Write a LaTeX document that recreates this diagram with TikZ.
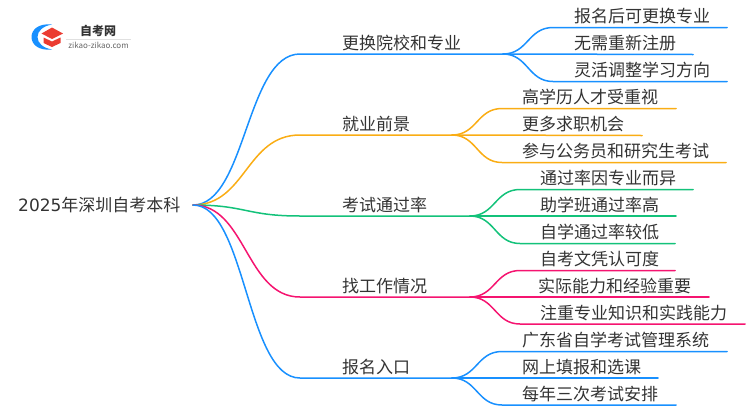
\documentclass[tikz,border=0pt]{standalone}
\usepackage{fontspec}
\setmainfont{Noto Sans CJK SC}
\newfontfamily\digitfont{DejaVu Sans}
\usetikzlibrary{positioning}
\definecolor{linkblue}{RGB}{24,144,255}
\definecolor{linkorange}{RGB}{250,173,20}
\definecolor{linkgreen}{RGB}{19,194,122}
\definecolor{linkpink}{RGB}{245,20,112}
\definecolor{textdark}{RGB}{51,51,51}
\definecolor{logored}{RGB}{235,60,50}
\begin{document}
\begin{tikzpicture}[
        x=1pt, y=-1pt,
        rootlabel/.style={inner sep=0pt, anchor=west, text=textdark, font=\fontsize{17}{17}\selectfont},
        branchlabel/.style={rootlabel},
        leaflabel/.style={rootlabel},
        link/.style={line width=1.5pt, line cap=round}
    ]
        \useasboundingbox (0,0) rectangle (750,410);
        \node[rootlabel] (root) at (18,205) {{\digitfont 2025}年深圳自考本科};
        \coordinate (rootend) at (193,205);

        % logo
        \fill[linkblue] (52,24.5) .. controls (38,23) and (31.5,30) .. (31.5,37) .. controls (31.5,44) and (38,51) .. (52,49.5) .. controls (43,48) and (37.5,43) .. (37.5,37) .. controls (37.5,31) and (43,26) .. (52,24.5) -- cycle;
        \fill[logored] (41.5,33.5) -- (52,27.5) -- (63,33.5) -- (52,39) -- cycle;
        \fill[logored] (43.5,37.5) -- (52,41.5) -- (60.5,37.5) -- (60.5,43) -- (52,47) -- (43.5,43) -- cycle;
        \node[inner sep=0pt, text=textdark, font=\fontsize{12}{12}\selectfont\bfseries] (logotitle) at (98,31) {自考网};
        \node[inner sep=0pt, text=black!60, font=\fontsize{8}{8}\selectfont] (logourl) at (98.5,45) {zikao-zikao.com};
        \coordinate (logol) at (66,39);
        \coordinate (logor) at (131,39);
        \draw[black!12, line width=0.6pt] (logol) -- (logor);

        % branch 1
        \node[branchlabel] (change) at (342,43) {更换院校和专业};
        \coordinate (changea) at (300,54);
        \coordinate (changeb) at (503,54);
        \draw[link, linkblue] (rootend) .. controls (246,205) and (246,54) .. (changea) -- (changeb);
        \node[leaflabel] (change1) at (574,16) {报名后可更换专业};
        \node[leaflabel] (change2) at (574,43) {无需重新注册};
        \node[leaflabel] (change3) at (574,70) {灵活调整学习方向};
        \coordinate (change1a) at (553,27.5);
        \coordinate (change1b) at (727,27.5);
        \coordinate (change2b) at (693,54.5);
        \coordinate (change3a) at (553,81.5);
        \coordinate (change3b) at (727,81.5);
        \draw[link, linkblue] (changeb) .. controls (528,54) and (528,27.5) .. (change1a) -- (change1b);
        \draw[link, linkblue] (changeb) -- (change2b);
        \draw[link, linkblue] (changeb) .. controls (528,54) and (528,81.5) .. (change3a) -- (change3b);

        % branch 2
        \node[branchlabel] (job) at (342,124) {就业前景};
        \coordinate (joba) at (300,135);
        \coordinate (jobb) at (452,135);
        \draw[link, linkorange] (rootend) .. controls (246,205) and (246,135) .. (joba) -- (jobb);
        \node[leaflabel] (job1) at (522,97) {高学历人才受重视};
        \node[leaflabel] (job2) at (522,124) {更多求职机会};
        \node[leaflabel] (job3) at (522,151) {参与公务员和研究生考试};
        \coordinate (job1a) at (502,108.5);
        \coordinate (job1b) at (676,108.5);
        \coordinate (job2b) at (642,135.5);
        \coordinate (job3a) at (502,162.5);
        \coordinate (job3b) at (726,162.5);
        \draw[link, linkorange] (jobb) .. controls (477,135) and (477,108.5) .. (job1a) -- (job1b);
        \draw[link, linkorange] (jobb) -- (job2b);
        \draw[link, linkorange] (jobb) .. controls (477,135) and (477,162.5) .. (job3a) -- (job3b);

        % branch 3
        \node[branchlabel] (exam) at (342,205) {考试通过率};
        \coordinate (exama) at (300,216);
        \coordinate (examb) at (470,216);
        \draw[link, linkgreen] (rootend) .. controls (246,205) and (246,216) .. (exama) -- (examb);
        \node[leaflabel] (exam1) at (540,178) {通过率因专业而异};
        \node[leaflabel] (exam2) at (540,205) {助学班通过率高};
        \node[leaflabel] (exam3) at (540,232) {自学通过率较低};
        \coordinate (exam1a) at (520,189.5);
        \coordinate (exam1b) at (693,189.5);
        \coordinate (exam2b) at (676,216);
        \coordinate (exam3a) at (520,243.5);
        \coordinate (exam3b) at (675,243.5);
        \draw[link, linkgreen] (examb) .. controls (495,216) and (495,189.5) .. (exam1a) -- (exam1b);
        \draw[link, linkgreen] (examb) -- (exam2b);
        \draw[link, linkgreen] (examb) .. controls (495,216) and (495,243.5) .. (exam3a) -- (exam3b);

        % branch 4
        \node[branchlabel] (work) at (342,286) {找工作情况};
        \coordinate (worka) at (300,297);
        \coordinate (workb) at (470,297);
        \draw[link, linkpink] (rootend) .. controls (246,205) and (246,297) .. (worka) -- (workb);
        \node[leaflabel] (work1) at (540,259) {自考文凭认可度};
        \node[leaflabel] (work2) at (538,286) {实际能力和经验重要};
        \node[leaflabel] (work3) at (540,313) {注重专业知识和实践能力};
        \coordinate (work1a) at (520,270.5);
        \coordinate (work1b) at (675,270.5);
        \coordinate (work2b) at (709,297);
        \coordinate (work3a) at (520,324);
        \coordinate (work3b) at (745,324);
        \draw[link, linkpink] (workb) .. controls (495,297) and (495,270.5) .. (work1a) -- (work1b);
        \draw[link, linkpink] (workb) -- (work2b);
        \draw[link, linkpink] (workb) .. controls (495,297) and (495,324) .. (work3a) -- (work3b);

        % branch 5
        \node[branchlabel] (entry) at (342,367) {报名入口};
        \coordinate (entrya) at (300,378);
        \coordinate (entryb) at (452,378);
        \draw[link, linkblue] (rootend) .. controls (246,205) and (246,378) .. (entrya) -- (entryb);
        \node[leaflabel] (entry1) at (522,340) {广东省自学考试管理系统};
        \node[leaflabel] (entry2) at (522,367) {网上填报和选课};
        \node[leaflabel] (entry3) at (522,394) {每年三次考试安排};
        \coordinate (entry1a) at (502,351.5);
        \coordinate (entry1b) at (727,351.5);
        \coordinate (entry2b) at (658,378);
        \coordinate (entry3a) at (502,405);
        \coordinate (entry3b) at (676,405);
        \draw[link, linkblue] (entryb) .. controls (477,378) and (477,351.5) .. (entry1a) -- (entry1b);
        \draw[link, linkblue] (entryb) -- (entry2b);
        \draw[link, linkblue] (entryb) .. controls (477,378) and (477,405) .. (entry3a) -- (entry3b);
    \end{tikzpicture}
\end{document}
